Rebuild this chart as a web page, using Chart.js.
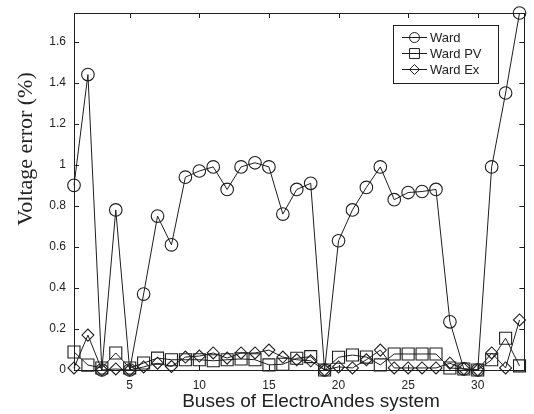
<!DOCTYPE html>
<html>
<head>
<meta charset="utf-8">
<script src="https://cdn.jsdelivr.net/npm/chart.js@4.4.1/dist/chart.umd.min.js"></script>
<style>
html,body{margin:0;padding:0;background:#fff;}
#wrap{width:534px;height:414px;position:relative;}
</style>
</head>
<body>
<div id="wrap"><canvas id="c" width="534" height="414"></canvas></div>
<script>
const buses = [1,2,3,4,5,6,7,8,9,10,11,12,13,14,15,16,17,18,19,20,21,22,23,24,25,26,27,28,29,30,31,32,33];
const ward = [0.90,1.44,0.0,0.78,0.0,0.37,0.75,0.61,0.94,0.97,0.99,0.88,0.99,1.01,0.99,0.76,0.88,0.91,0.0,0.63,0.78,0.89,0.99,0.83,0.865,0.87,0.88,0.235,0.005,0.0,0.99,1.35,1.74];
const wardPV = [0.088,0.024,0.01,0.083,0.01,0.034,0.058,0.05,0.05,0.05,0.045,0.05,0.054,0.05,0.025,0.028,0.057,0.065,0.0,0.062,0.073,0.063,0.025,0.078,0.078,0.078,0.078,0.01,0.005,0.0,0.05,0.155,0.02];
const wardEx = [0.01,0.17,0.0,0.005,0.0,0.015,0.033,0.017,0.063,0.068,0.083,0.058,0.083,0.083,0.097,0.063,0.05,0.045,0.0,0.015,0.01,0.05,0.097,0.01,0.01,0.01,0.01,0.033,0.005,0.0,0.083,0.01,0.244];
const seriesNames = ["Ward","Ward PV","Ward Ex"];
const xTicks = [5,10,15,20,25,30];
const yTicks = [0,0.2,0.4,0.6,0.8,1,1.2,1.4,1.6];
const yTitle = "Voltage error (%)";
const xTitle = "Buses of ElectroAndes system";

const INK = '#1e1e1e';
const toPts = arr => buses.map((b,i)=>({x:b,y:arr[i]}));
const styles = [
  {pointStyle:'circle', pointRadius:6.3},
  {pointStyle:'rect', pointRadius:8.5},
  {pointStyle:'rectRot', pointRadius:6}
];
const datasets = [ward, wardPV, wardEx].map((arr,i)=>({
  label: seriesNames[i],
  data: toPts(arr),
  borderColor: INK,
  borderWidth: 1,
  backgroundColor: 'rgba(0,0,0,0)',
  pointBorderColor: INK,
  pointBackgroundColor: 'rgba(0,0,0,0)',
  pointBorderWidth: 1.1,
  pointStyle: styles[i].pointStyle,
  pointRadius: styles[i].pointRadius,
  tension: 0,
  clip: false
}));

const framePlugin = {
  id: 'frame',
  afterDraw(chart) {
    const ctx = chart.ctx, a = chart.chartArea;
    const xs = chart.scales.x, ys = chart.scales.y;
    ctx.save();
    ctx.strokeStyle = INK;
    ctx.lineWidth = 1;
    ctx.strokeRect(Math.round(a.left)+0.5, Math.round(a.top)+0.5, Math.round(a.right-a.left), Math.round(a.bottom-a.top));
    const tl = 5;
    ctx.beginPath();
    xTicks.forEach(v=>{
      const px = Math.round(xs.getPixelForValue(v))+0.5;
      ctx.moveTo(px, a.bottom); ctx.lineTo(px, a.bottom - tl);
      ctx.moveTo(px, a.top); ctx.lineTo(px, a.top + tl);
    });
    yTicks.forEach(v=>{
      const py = Math.round(ys.getPixelForValue(v))+0.5;
      ctx.moveTo(a.left, py); ctx.lineTo(a.left + tl, py);
      ctx.moveTo(a.right, py); ctx.lineTo(a.right - tl, py);
    });
    ctx.stroke();

    // axis titles
    ctx.fillStyle = '#222';
    ctx.save();
    ctx.translate(26, 149);
    ctx.rotate(-Math.PI/2);
    ctx.font = '22px "Liberation Serif", "Times New Roman", serif';
    ctx.textAlign = 'center';
    ctx.textBaseline = 'middle';
    ctx.fillText(yTitle, 0, 0);
    ctx.restore();
    ctx.font = '19px "Liberation Sans", Arial, sans-serif';
    ctx.textAlign = 'center';
    ctx.textBaseline = 'middle';
    ctx.fillText(xTitle, 311, 402);

    // legend
    const lx = 393, ly = 25, lw = 105, lh = 58;
    ctx.fillStyle = '#fff';
    ctx.fillRect(lx, ly, lw, lh);
    ctx.strokeStyle = INK;
    ctx.lineWidth = 1;
    ctx.strokeRect(lx+0.5, ly+0.5, lw, lh);
    ctx.font = '13px "Liberation Sans", Arial, sans-serif';
    ctx.textAlign = 'left';
    ctx.textBaseline = 'middle';
    const rows = [37, 53, 69];
    rows.forEach((ry,i)=>{
      ctx.strokeStyle = INK;
      ctx.beginPath();
      ctx.moveTo(402, ry+0.5); ctx.lineTo(427, ry+0.5);
      ctx.stroke();
      const r = [5, 7, 5][i];
      ctx.fillStyle = 'rgba(0,0,0,0)';
      Chart.helpers.drawPoint(ctx, {pointStyle: styles[i].pointStyle, radius: r, borderWidth: 1}, 414.5, ry+0.5);
      ctx.fillStyle = '#222';
      ctx.fillText(seriesNames[i], 430, ry+1);
    });
    ctx.restore();
  }
};

new Chart(document.getElementById('c'), {
  type: 'line',
  data: { datasets },
  options: {
    responsive: false,
    animation: false,
    devicePixelRatio: 1,
    layout: { padding: { top: 13, right: 4, left: 0, bottom: 0 } },
    plugins: { legend: { display: false }, tooltip: { enabled: false } },
    scales: {
      x: {
        type: 'linear', min: 1, max: 33.35,
        grid: { display: false },
        border: { display: false },
        afterFit(s){ s.height = 44; },
        afterBuildTicks(s){ s.ticks = xTicks.map(v=>({value:v})); },
        ticks: { color: '#222', padding: 0, font: { size: 12, family: '"Liberation Sans", Arial, sans-serif' }, maxRotation: 0, autoSkip: false }
      },
      y: {
        type: 'linear', min: 0, max: 1.74,
        grid: { display: false },
        border: { display: false },
        afterFit(s){ s.width = 74; },
        afterBuildTicks(s){ s.ticks = yTicks.map(v=>({value:v})); },
        ticks: { color: '#222', padding: 0, font: { size: 12, family: '"Liberation Sans", Arial, sans-serif' }, autoSkip: false,
          callback: v => String(Math.round(v*10)/10) }
      }
    }
  },
  plugins: [framePlugin]
});
</script>
</body>
</html>
